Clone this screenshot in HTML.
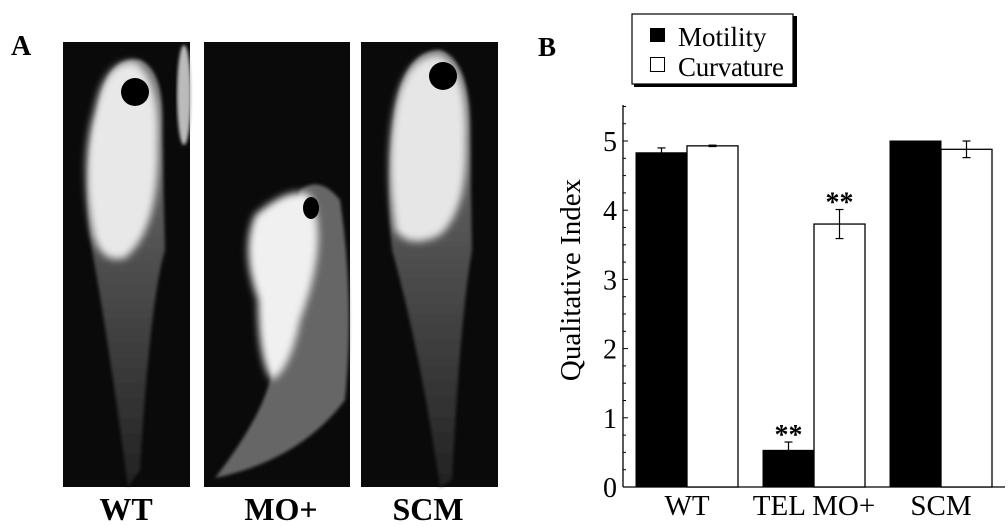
<!DOCTYPE html>
<html><head><meta charset="utf-8"><style>
body{margin:0;background:#fff;width:1008px;height:521px;overflow:hidden;font-family:"Liberation Serif",serif}
</style></head><body>
<svg width="1008" height="521" viewBox="0 0 1008 521" xmlns="http://www.w3.org/2000/svg">
<defs>
<filter id="bl" x="-20%" y="-20%" width="140%" height="140%"><feGaussianBlur stdDeviation="4"/></filter>
<filter id="bl2"><feGaussianBlur stdDeviation="1.5"/></filter>
<linearGradient id="tail" x1="0" y1="0" x2="0" y2="1"><stop offset="0" stop-color="#777"/><stop offset="1" stop-color="#222"/></linearGradient>
</defs>
<text x="11" y="55" font-size="28" font-weight="bold">A</text>
<text x="538" y="56" font-size="27" font-weight="bold">B</text>

<g>
<rect x="63" y="42" width="127" height="445" fill="#0a0a0a"/>
<path d="M100 100 Q110 55 140 60 Q165 70 162 130 L165 250 Q150 300 140 470 L128 487 Q110 350 92 250 Q80 180 100 100Z" fill="url(#tail)" filter="url(#bl2)"/>
<path d="M95 110 Q105 60 135 62 Q160 80 158 140 Q160 230 125 258 Q100 265 92 230 Q80 160 95 110Z" fill="#e8e8e8" filter="url(#bl)"/>
<ellipse cx="184" cy="95" rx="7" ry="50" fill="#bbb" filter="url(#bl2)"/>
<ellipse cx="135" cy="92" rx="14" ry="14" fill="#000"/>
</g>
<g>
<rect x="204" y="42" width="146" height="445" fill="#0a0a0a"/>
<path d="M215 478 Q260 420 270 380 L300 190 Q320 175 340 200 Q355 300 345 400 Q300 460 215 478Z" fill="#666" filter="url(#bl2)"/>
<path d="M255 215 Q290 185 310 195 Q330 240 300 320 Q290 370 272 380 Q258 360 258 300 Q240 250 255 215Z" fill="#f0f0f0" filter="url(#bl)"/>
<ellipse cx="311" cy="208" rx="8" ry="11" fill="#000"/>
</g>
<g>
<rect x="361" y="42" width="137" height="445" fill="#0a0a0a"/>
<path d="M395 110 Q405 50 440 50 Q470 60 470 130 L472 250 Q460 320 452 480 L440 487 Q420 350 392 250 Q385 180 395 110Z" fill="url(#tail)" filter="url(#bl2)"/>
<path d="M395 110 Q405 55 440 55 Q468 70 466 140 Q468 210 440 235 Q410 250 395 230 Q385 160 395 110Z" fill="#e6e6e6" filter="url(#bl)"/>
<ellipse cx="443" cy="76" rx="14" ry="14" fill="#000"/>
</g>
<g font-size="32" font-weight="bold" text-anchor="middle">
<text x="126" y="520">WT</text>
<text x="281" y="520">MO+</text>
<text x="428" y="520">SCM</text>
</g>

<g>
<rect x="634" y="16" width="163" height="71" fill="#000"/>
<rect x="632" y="14" width="161" height="70" fill="#fff" stroke="#000" stroke-width="1.2"/>
<rect x="650" y="28" width="15" height="14" fill="#000"/>
<text x="678" y="46" font-size="27">Motility</text>
<rect x="650.5" y="57.5" width="14" height="14" fill="#fff" stroke="#000"/>
<text x="678" y="76" font-size="27" textLength="106">Curvature</text>
</g>
<g id="chart"></g>
</svg>
<script>
const categories=["WT","TEL MO+","SCM"];
const motility=[4.83,0.53,5.0];
const motilityErr=[0.07,0.12,0];
const curvature=[4.93,3.8,4.88];
const curvatureErr=[0.01,0.21,0.12];
const yTicks=[0,1,2,3,4,5];
const sigMot=[false,true,false];
const sigCurv=[false,true,false];

const NS="http://www.w3.org/2000/svg";
const g=document.getElementById('chart');
const x0=623,y0=487,unit=69.2;
const y=v=>y0-v*unit;
const groupX=i=>636+i*127;
const bw=51;
function mk(t,a,p){const e=document.createElementNS(NS,t);for(const k in a)e.setAttribute(k,a[k]);(p||g).appendChild(e);return e;}
let ax=mk('line',{x1:x0,y1:105,x2:x0,y2:y0,stroke:'#000','stroke-width':1.3});


let xa=mk('line',{x1:x0,y1:y0,x2:1005,y2:y0,stroke:'#000','stroke-width':1.3});


for(let v=0;v<=5.5;v+=0.25){
  const major=Math.abs(v-Math.round(v))<1e-6;
  mk('line',{x1:x0,y1:y(v),x2:x0+(major?5:3),y2:y(v),stroke:'#000','stroke-width':1});
}
yTicks.forEach(v=>{
  const t=mk('text',{x:x0-6,y:y(v)+10,'font-size':28,'text-anchor':'end'});
  t.textContent=v;
  
  
});
const yt=mk('text',{x:0,y:0,'font-size':29,'text-anchor':'middle',transform:'translate(580,280) rotate(-90)'});
yt.textContent='Qualitative Index';


categories.forEach((c,i)=>{
  const gx=groupX(i);
  const t=mk('text',{x:gx+bw,y:515,'font-size':29,'text-anchor':'middle'});
  t.textContent=c;
  
  
  const b1=mk('rect',{x:gx,y:y(motility[i]),width:bw,height:y0-y(motility[i]),fill:'#000',stroke:'#000'});
  
  
  const b2=mk('rect',{x:gx+bw,y:y(curvature[i]),width:bw,height:y0-y(curvature[i]),fill:'#fff',stroke:'#000','stroke-width':1.3});
  
  
  [[gx+bw/2,motility[i],motilityErr[i],sigMot[i]],[gx+bw*1.5,curvature[i],curvatureErr[i],sigCurv[i]]].forEach(([cx,v,e,s])=>{
    if(e>0){
      mk('line',{x1:cx,y1:y(v-e),x2:cx,y2:y(v+e),stroke:'#000','stroke-width':1.2});
      mk('line',{x1:cx-4,y1:y(v+e),x2:cx+4,y2:y(v+e),stroke:'#000','stroke-width':1.2});
      mk('line',{x1:cx-4,y1:y(v-e),x2:cx+4,y2:y(v-e),stroke:'#000','stroke-width':1.2});
    }
    if(s){
      const st=mk('text',{x:cx,y:y(v+e)+2,'font-size':28,'font-weight':'bold','text-anchor':'middle'});
      st.textContent='**';
      
      
    }
  });
});
</script>
</body></html>
